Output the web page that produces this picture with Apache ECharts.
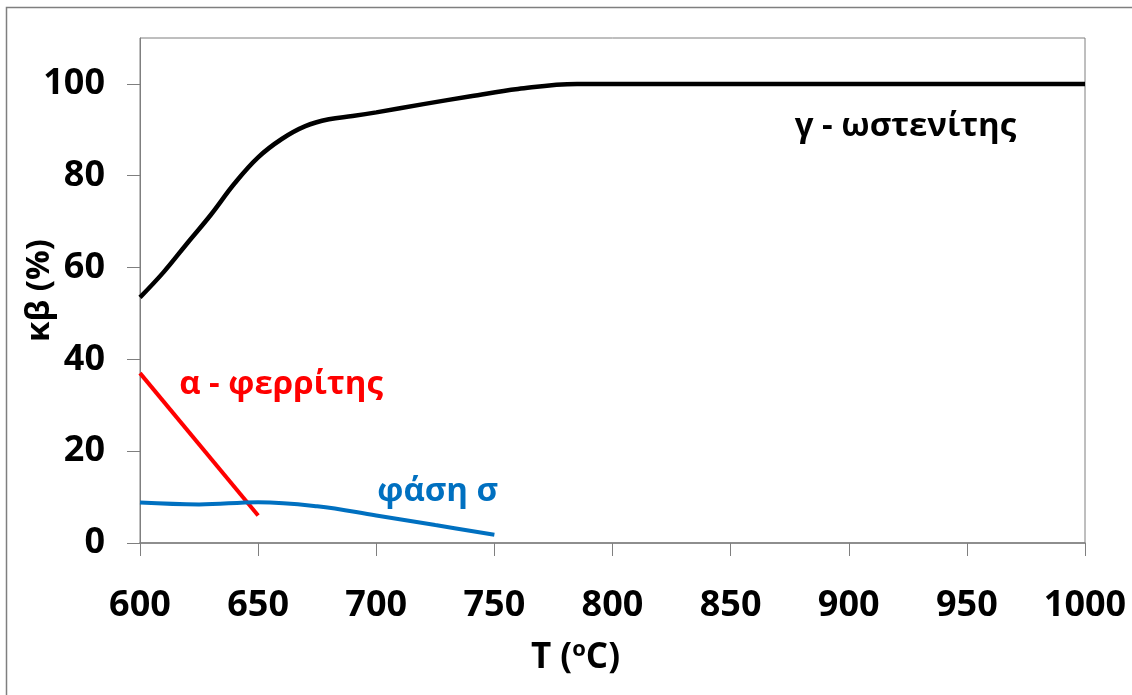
<!DOCTYPE html>
<html><head><meta charset="utf-8">
<script src="https://cdn.jsdelivr.net/npm/echarts@6/dist/echarts.min.js"></script>
<style>html,body{margin:0;padding:0;background:#fff}#c{width:1132px;height:695px}</style>
</head><body><div id="c"></div>
<script>
const xTicks = [600, 650, 700, 750, 800, 850, 900, 950, 1000];
const yTicks = [0, 20, 40, 60, 80, 100];
const austeniteT = [600, 610, 620, 630, 640, 650, 660, 670, 680, 690, 700, 720, 740, 760, 785, 800, 850, 900, 950, 1000];
const austeniteV = [53.5, 59, 65.3, 71.5, 78.3, 84, 88, 90.8, 92.3, 93, 93.8, 95.6, 97.3, 98.9, 100, 100, 100, 100, 100, 100];
const ferriteT = [600, 650];
const ferriteV = [37, 6];
const sigmaT = [600, 625, 650, 675, 700, 725, 750];
const sigmaV = [8.8, 8.4, 8.9, 8.0, 6.0, 3.9, 1.8];
const labels = { austenite: 'γ - ωστενίτης', ferrite: 'α - φερρίτης', sigma: 'φάση σ' };

const zip = (a, b) => a.map((v, i) => [v, b[i]]);
const FONT = "'Open Sans', 'DejaVu Sans', sans-serif";
function tag(coord, text, color) {
  return { symbol: 'circle', symbolSize: 1, itemStyle: { color: 'rgba(0,0,0,0)' },
    data: [{ coord: coord, label: { show: true, position: 'inside', formatter: text, color: color, fontFamily: FONT, fontSize: 33, fontWeight: 'bold' } }] };
}
const chart = echarts.init(document.getElementById('c'), null, { renderer: 'canvas' });
chart.setOption({
  animation: false,
  backgroundColor: '#fff',
  graphic: [{ type: 'rect', shape: { x: 6.5, y: 7.5, width: 1300, height: 900 }, style: { fill: 'none', stroke: '#7f7f7f', lineWidth: 1.5 }, silent: true }],
  grid: { left: 140, right: 47, top: 38, bottom: 152, show: true, borderColor: '#7f7f7f', borderWidth: 1, containLabel: false, outerBoundsMode: 'none' },
  xAxis: {
    type: 'value', min: 600, max: 1000, interval: 50,
    axisLine: { show: true, lineStyle: { color: '#7f7f7f', width: 1.5 } },
    axisTick: { show: true, length: 13, inside: false, lineStyle: { color: '#7f7f7f' } },
    splitLine: { show: false },
    axisLabel: { color: '#000', fontFamily: FONT, fontSize: 36, fontWeight: 'bold', margin: 45,
      formatter: v => xTicks.includes(v) ? String(v) : '' },
    name: 'T ({s|o}C)', nameLocation: 'middle', nameGap: 96,
    nameTextStyle: { color: '#000', fontFamily: FONT, fontSize: 35, fontWeight: 'bold', padding: [0, 74, 0, 0],
      rich: { s: { fontFamily: FONT, fontSize: 22, fontWeight: 'bold', color: '#000', verticalAlign: 'top', padding: [0, 0, 16, 0] } } }
  },
  yAxis: {
    type: 'value', min: 0, max: 110, interval: 20,
    axisLine: { show: true, lineStyle: { color: '#7f7f7f', width: 1 } },
    axisTick: { show: true, length: 13, inside: false, lineStyle: { color: '#7f7f7f' } },
    splitLine: { show: false },
    axisLabel: { color: '#000', fontFamily: FONT, fontSize: 36, fontWeight: 'bold', margin: 35, showMaxLabel: false,
      formatter: v => yTicks.includes(v) ? String(v) : '' },
    name: 'κβ (%)', nameLocation: 'middle', nameGap: 84, nameRotate: 90, nameMoveOverlap: false,
    nameTextStyle: { color: '#000', fontFamily: FONT, fontSize: 33, fontWeight: 'bold' }
  },
  series: [
    { type: 'line', data: zip(austeniteT, austeniteV), smooth: 0.4, showSymbol: false, lineStyle: { color: '#000', width: 4.5 },
      markPoint: tag([924, 90.6], labels.austenite, '#000') },
    { type: 'line', data: zip(ferriteT, ferriteV), smooth: false, showSymbol: false, lineStyle: { color: '#ff0000', width: 4 },
      markPoint: tag([659.7, 34.5], labels.ferrite, '#ff0000') },
    { type: 'line', data: zip(sigmaT, sigmaV), smooth: 0.4, showSymbol: false, lineStyle: { color: '#0070c0', width: 4 },
      markPoint: tag([726, 11.1], labels.sigma, '#0070c0') }
  ]
});
</script></body></html>
